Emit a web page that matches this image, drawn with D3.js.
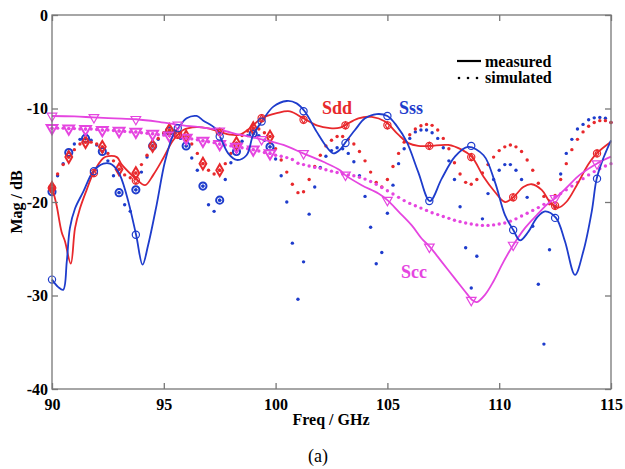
<!DOCTYPE html>
<html>
<head>
<meta charset="utf-8">
<script src="https://cdn.jsdelivr.net/npm/d3@7"></script>
<style>
  body { margin: 0; background: #fff; }
  svg { display: block; }
</style>
</head>
<body>
<div id="chart"></div>
<script>
// simulated curves: one value every 0.25 GHz from 90 to 115 GHz
var simFreq = d3.range(90, 115.001, 0.25);

var sddSim = [-18.5,-17.0,-16.0,-15.2,-14.4,-13.8,-13.6,-13.6,-13.8,-14.1,-14.8,-15.6,-16.5,-17.1,-17.4,-16.9,
  -16.0,-15.0,-14.0,-13.2,-12.6,-12.3,-12.4,-12.6,-13.0,-13.8,-14.8,-15.9,-16.6,-17.0,-16.6,-15.9,
  -14.8,-13.7,-12.9,-12.4,-12.1,-12.2,-12.6,-13.0,-14.3,-15.5,-16.8,-18.1,-19.0,-18.9,-17.6,-16.2,
  -15.0,-14.0,-13.4,-13.0,-13.0,-13.3,-13.8,-14.6,-15.6,-16.8,-17.9,-18.4,-17.6,-16.2,-14.8,-13.6,
  -12.8,-12.2,-11.85,-11.7,-11.8,-12.3,-13.2,-14.3,-15.8,-17.0,-17.9,-18.1,-17.6,-16.9,-16.0,-15.2,
  -14.5,-14.1,-13.9,-14.1,-14.6,-15.5,-16.6,-18.0,-19.4,-20.2,-19.3,-17.6,-15.9,-14.4,-13.3,-12.5,
  -11.9,-11.5,-11.3,-11.3,-11.5];

var sssSim = [-18.9,-17.2,-15.9,-14.7,-13.8,-13.3,-13.2,-13.4,-13.9,-14.6,-15.6,-17.2,-19.0,-20.3,-21.0,-18.7,
  -16.8,-15.2,-14.0,-13.3,-12.7,-12.4,-12.6,-13.2,-14.0,-15.3,-16.6,-18.3,-20.3,-21.0,-19.8,-17.6,
  -15.8,-14.6,-13.5,-12.9,-12.7,-12.9,-13.4,-14.1,-15.4,-17.2,-20.0,-24.4,-30.4,-26.4,-21.3,-18.4,
  -16.3,-15.1,-14.5,-14.2,-14.3,-14.8,-15.7,-17.2,-19.4,-22.7,-26.6,-25.4,-21.2,-18.2,-15.9,-14.3,
  -13.2,-12.5,-12.3,-12.3,-12.6,-13.2,-14.2,-15.6,-17.6,-20.5,-24.9,-29.2,-25.8,-21.8,-19.1,-17.6,
  -16.6,-16.0,-16.0,-16.6,-17.6,-19.5,-22.6,-28.8,-35.2,-25.1,-20.5,-17.0,-14.8,-13.3,-12.2,-11.7,
  -11.2,-11.0,-10.95,-11.05,-11.5];

var sccSim = [-12.1,-12.1,-12.1,-12.15,-12.15,-12.2,-12.2,-12.2,-12.25,-12.3,-12.3,-12.35,-12.4,-12.45,-12.5,-12.5,
  -12.6,-12.65,-12.7,-12.8,-12.85,-12.9,-13.0,-13.05,-13.15,-13.25,-13.35,-13.45,-13.55,-13.65,-13.8,-13.9,
  -14.0,-14.1,-14.2,-14.3,-14.4,-14.55,-14.7,-14.8,-15.0,-15.1,-15.25,-15.45,-15.85,-16.0,-16.15,-16.3,
  -16.4,-16.55,-16.7,-16.85,-17.0,-17.1,-17.2,-17.35,-17.55,-17.8,-18.1,-18.45,-18.8,-19.15,-19.5,-19.85,
  -20.15,-20.4,-20.65,-20.9,-21.15,-21.35,-21.55,-21.75,-21.95,-22.1,-22.25,-22.35,-22.45,-22.5,-22.5,-22.45,
  -22.35,-22.25,-22.05,-21.8,-21.5,-21.2,-20.9,-20.6,-20.25,-19.9,-19.5,-19.1,-18.7,-18.3,-17.9,-17.5,
  -17.1,-16.75,-16.45,-16.15,-15.9];

// measured curves: [GHz, dB]
var sddMeas = [[90,-18.4],[90.2,-20.3],[90.43,-23.2],[90.58,-24.2],[90.84,-26.6],[91.03,-22.8],[91.25,-20.7],
  [91.55,-18.7],[91.85,-16.9],[92.3,-15.3],[92.52,-15.1],[92.9,-15.2],[93.12,-16.0],[93.56,-17.1],[93.79,-17.6],
  [94.16,-18.2],[94.53,-17.1],[94.98,-15.3],[95.42,-13.4],[95.87,-12.3],[96.47,-12.0],[96.92,-12.1],[97.5,-12.5],
  [97.96,-12.8],[98.4,-12.8],[98.85,-12.1],[99.38,-11.05],[100.05,-10.5],[100.64,-10.3],[101.24,-11.05],
  [101.84,-11.8],[102.43,-12.1],[102.88,-12.05],[103.1,-11.8],[103.7,-11.05],[104.3,-10.9],[104.9,-11.4],
  [105.49,-12.8],[105.94,-13.7],[106.38,-14.0],[106.9,-14.0],[107.72,-13.9],[108.32,-14.4],[108.77,-15.15],
  [109.3,-17.3],[109.8,-18.9],[110.26,-20.0],[110.63,-19.5],[111.08,-18.4],[111.45,-18.1],[111.9,-18.7],
  [112.27,-20.0],[112.64,-20.6],[113.0,-20.0],[113.47,-18.2],[113.98,-16.0],[114.36,-14.8],[115,-13.55]];

var sssMeas = [[90,-28.3],[90.28,-29.1],[90.5,-29.4],[90.66,-26.4],[90.8,-22.8],[91.03,-20.7],[91.4,-18.9],
  [91.85,-16.7],[92.3,-15.9],[92.6,-15.9],[92.97,-16.8],[93.34,-19.3],[93.76,-23.5],[94.05,-26.7],[94.3,-24.6],
  [94.68,-20.3],[95.05,-15.7],[95.43,-12.8],[95.65,-12.1],[96.02,-11.05],[96.47,-10.8],[96.77,-11.3],
  [97.29,-12.1],[97.51,-13.0],[97.88,-14.8],[98.26,-15.5],[98.7,-15.0],[99.0,-12.8],[99.38,-11.4],[99.9,-9.8],
  [100.5,-9.2],[100.94,-9.45],[101.3,-10.3],[101.84,-12.5],[102.28,-14.1],[102.58,-14.8],[102.88,-14.4],
  [103.1,-13.7],[103.55,-12.3],[104.0,-11.05],[104.52,-10.6],[105.0,-10.8],[105.4,-11.8],[105.86,-13.55],
  [106.38,-16.8],[106.9,-19.9],[107.43,-17.5],[108.02,-15.15],[108.6,-14.1],[109.3,-15.0],[109.8,-17.8],
  [110.26,-21.4],[110.63,-23.0],[110.93,-24.1],[111.3,-23.2],[111.68,-21.7],[112.05,-21.0],[112.54,-21.7],
  [112.94,-24.2],[113.39,-27.8],[113.76,-25.3],[114.14,-21.0],[114.36,-17.5],[114.66,-15.3],[115,-13.4]];

var sccMeas = [[90,-10.8],[91,-10.85],[91.85,-10.95],[92.8,-11.05],[93.76,-11.15],[94.7,-11.4],[95.65,-11.75],
  [96.6,-12.0],[97.5,-12.3],[98.4,-12.8],[99.38,-13.3],[100.35,-13.9],[101.24,-14.8],[102.13,-15.7],
  [102.88,-16.6],[103.1,-17.1],[103.85,-18.2],[104.6,-19.1],[105.0,-19.8],[105.49,-21.0],[106.09,-22.5],
  [106.53,-23.9],[106.9,-24.8],[107.43,-26.4],[108.02,-28.2],[108.55,-29.8],[108.8,-30.5],[109.0,-30.7],
  [109.37,-29.9],[109.74,-28.5],[110.19,-26.4],[110.63,-24.6],[111.15,-22.8],[111.68,-21.4],[112.12,-20.3],
  [112.5,-19.6],[113.0,-18.5],[113.6,-17.1],[114.36,-15.9],[115,-15.15]];

// markers on the measured curves
var markFreq = [90, 91.875, 93.75, 95.625, 97.5, 99.375, 101.25, 103.125, 105, 106.875, 108.75, 110.625, 112.5, 114.375];
var sddMark = [-18.5, -16.9, -17.7, -12.8, -12.5, -11.05, -11.2, -11.8, -11.8, -14.0, -15.2, -19.5, -20.4, -14.8];
var sssMark = [-28.3, -16.7, -23.5, -12.1, -13.0, -11.4, -10.3, -13.7, -10.8, -19.9, -14.0, -23.0, -21.7, -17.5];
var sccMark = [-10.8, -10.95, -11.15, -11.75, -12.4, -13.3, -14.8, -17.1, -19.8, -24.8, -30.5, -24.6, -19.6, -15.9];

var xTicks = [90, 95, 100, 105, 110, 115];
var yTicks = [0, -10, -20, -30, -40];

var red = '#e8282c', blue = '#1e3ccc', mag = '#e545e0';
var serif = '"Liberation Serif", "Times New Roman", serif';

const width = 625, height = 469;
const svg = d3.select('#chart').append('svg').attr('width', width).attr('height', height)
  .attr('font-family', serif);
svg.append('rect').attr('width', width).attr('height', height).attr('fill', '#fff');

const x = d3.scaleLinear().domain([90, 115]).range([52, 611]);
const y = d3.scaleLinear().domain([-40, 0]).range([389, 15]);

const g = svg.append('g');

// simulated dots
function simDots(vals, col) {
  g.append('g').selectAll('circle')
    .data(vals.map((v, i) => [simFreq[i], v]))
    .enter().append('circle')
    .attr('cx', d => x(d[0])).attr('cy', d => y(d[1]))
    .attr('r', 1.7).attr('fill', col);
}
simDots(sssSim, blue);
simDots(sddSim, red);
simDots(sccSim, mag);

// markers on simulated curves (every third sample, below 100 GHz)
function simMarks(vals, col, shape) {
  var pts = vals.map((v, i) => [simFreq[i], v]).filter((d, i) => i % 3 == 0 && d[0] < 100);
  var mg = g.append('g').selectAll('g').data(pts).enter().append('g')
    .attr('transform', d => 'translate(' + x(d[0]) + ',' + y(d[1]) + ')');
  mg.append('path').attr('d', d3.symbol().type(shape).size(shape == d3.symbolTriangle ? 50 : 40))
    .attr('transform', shape == d3.symbolTriangle ? 'rotate(180)' : null)
    .attr('fill', 'none').attr('stroke', col).attr('stroke-width', 2);
  mg.append('circle').attr('r', 1.6).attr('fill', col);
}
simMarks(sssSim, blue, d3.symbolCircle);
simMarks(sddSim, red, d3.symbolDiamond);
simMarks(sccSim, mag, d3.symbolTriangle);

// measured lines
const line = d3.line().x(d => x(d[0])).y(d => y(d[1])).curve(d3.curveCatmullRom);
[[sddMeas, red], [sccMeas, mag], [sssMeas, blue]].forEach(function(s) {
  g.append('path').datum(s[0]).attr('d', line)
    .attr('fill', 'none').attr('stroke', s[1]).attr('stroke-width', 1.8);
});

// markers on measured curves
function measMarks(vals, col, kind) {
  var mg = g.append('g').selectAll('g').data(vals.map((v, i) => [markFreq[i], v])).enter().append('g')
    .attr('transform', d => 'translate(' + x(d[0]) + ',' + y(d[1]) + ')')
    .attr('fill', 'none').attr('stroke', col).attr('stroke-width', 1.2);
  if (kind == 'tri') {
    mg.append('path').attr('d', d3.symbol().type(d3.symbolTriangle).size(40)).attr('transform', 'rotate(180)');
  } else {
    mg.append('circle').attr('r', 3.6);
    if (kind == 'dia') mg.append('path').attr('d', d3.symbol().type(d3.symbolDiamond).size(14));
  }
}
measMarks(sddMark, red, 'dia');
measMarks(sssMark, blue, 'circ');
measMarks(sccMark, mag, 'tri');

// axes box
const ax = svg.append('g');
ax.append('rect').attr('x', 52).attr('y', 15).attr('width', 559).attr('height', 374)
  .attr('fill', 'none').attr('stroke', '#777').attr('stroke-width', 1.3);

function styleAxis(sel) {
  sel.attr('font-family', serif).attr('font-size', 16).attr('font-weight', 'bold');
  sel.select('.domain').remove();
  sel.selectAll('line').attr('stroke', '#777').attr('stroke-width', 1.3);
  sel.selectAll('text').attr('fill', '#000');
}
ax.append('g').attr('transform', 'translate(0,389)')
  .call(d3.axisBottom(x).tickValues(xTicks).tickSizeInner(-6).tickSizeOuter(0).tickPadding(10).tickFormat(d => d))
  .call(styleAxis);
ax.append('g').attr('transform', 'translate(0,15)')
  .call(d3.axisTop(x).tickValues(xTicks).tickSizeInner(-6).tickSizeOuter(0).tickFormat(''))
  .call(styleAxis);
ax.append('g').attr('transform', 'translate(52,0)')
  .call(d3.axisLeft(y).tickValues(yTicks).tickSizeInner(-6).tickSizeOuter(0).tickPadding(4).tickFormat(d => String(d)))
  .call(styleAxis);
ax.append('g').attr('transform', 'translate(611,0)')
  .call(d3.axisRight(y).tickValues(yTicks).tickSizeInner(-6).tickSizeOuter(0).tickFormat(''))
  .call(styleAxis);

// axis titles
svg.append('text').attr('x', 331).attr('y', 425).attr('text-anchor', 'middle')
  .attr('font-weight', 'bold').attr('font-size', 16).text('Freq / GHz');
svg.append('text').attr('transform', 'translate(22,202) rotate(-90)').attr('text-anchor', 'middle')
  .attr('font-weight', 'bold').attr('font-size', 16).text('Mag / dB');
svg.append('text').attr('x', 318).attr('y', 462).attr('text-anchor', 'middle')
  .attr('font-size', 18).text('(a)');

// curve labels
[['Sdd', red, 337, 114], ['Sss', blue, 411, 114], ['Scc', mag, 414, 278]].forEach(function(l) {
  svg.append('text').attr('x', l[2]).attr('y', l[3]).attr('text-anchor', 'middle')
    .attr('font-weight', 'bold').attr('font-size', 18).attr('fill', l[1]).text(l[0]);
});

// legend
const lg = svg.append('g').attr('font-weight', 'bold').attr('font-size', 16);
lg.append('line').attr('x1', 457).attr('x2', 481).attr('y1', 61).attr('y2', 61)
  .attr('stroke', '#000').attr('stroke-width', 2.2);
lg.selectAll('circle').data([459, 468, 477]).enter().append('circle')
  .attr('cx', d => d).attr('cy', 78).attr('r', 1.3).attr('fill', '#000');
lg.append('text').attr('x', 485).attr('y', 67).text('measured');
lg.append('text').attr('x', 485).attr('y', 83).text('simulated');
</script>
</body>
</html>
